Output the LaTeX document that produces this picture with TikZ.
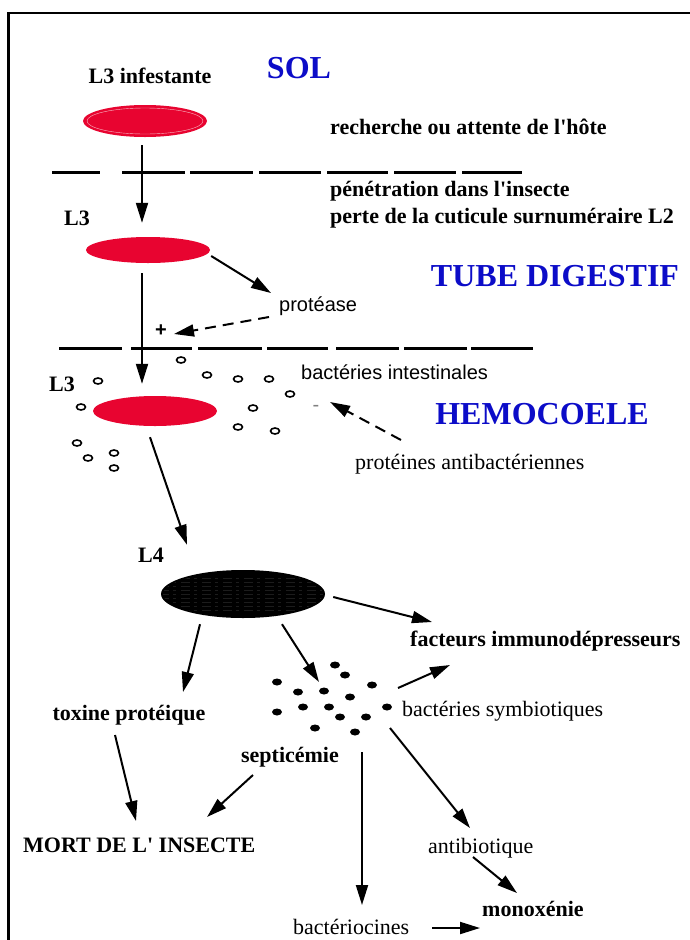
\documentclass[tikz,border=0pt]{standalone}
\usepackage{fontspec}
\setmainfont{Liberation Serif}[Ligatures=TeXOff]
\newfontfamily\sansf{Liberation Sans}[Ligatures=TeXOff]
\usetikzlibrary{arrows.meta,calc,shapes.geometric}
\definecolor{wred}{RGB}{232,4,48}
\definecolor{zblue}{RGB}{12,12,200}
\begin{document}
\begin{tikzpicture}[x=1pt,y=-1pt,
 arr/.style={line width=2pt,-{Triangle[length=20pt,width=12pt]}},
 darr/.style={arr,dash pattern=on 11pt off 7pt},
 lab/.style={font=\fontsize{22}{24}\selectfont\bfseries,inner sep=0pt},
 reg/.style={font=\fontsize{22}{24}\selectfont,inner sep=0pt},
 sanslab/.style={font=\sansf\fontsize{20}{22}\selectfont,inner sep=0pt},
 zone/.style={font=\fontsize{32}{34}\selectfont\bfseries,text=zblue,inner sep=0pt},
 worm/.style={ellipse,fill=wred,draw=none,inner sep=0pt,minimum width=124pt},
 bact/.style={ellipse,draw=black,line width=1.6pt,minimum width=9pt,minimum height=6pt,inner sep=0pt},
 sym/.style={ellipse,fill=black,minimum width=10pt,minimum height=7pt,inner sep=0pt},
 barrier/.style={line width=3pt}]
\useasboundingbox (0,0) rectangle (690,940);
\fill[white] (0,0) rectangle (690,940);
% frame
\draw[line width=2.5pt] (8.5,940) -- (8.5,13) -- (690,13);

% barriers
\foreach \a/\b in {52/100,122/185,190/253,259/321,327/388,394/456,462/522}
  \draw[barrier] (\a,172) -- (\b,172);
\foreach \a/\b in {59/122,131/192,198/262,267/328,336/399,404/467,471/533}
  \draw[barrier] (\a,348) -- (\b,348);

% larvae
\node[worm,minimum height=32pt] (e1) at (145,121) {};
\draw[white,opacity=0.7,line width=0.4pt] (145,121) ellipse [x radius=58, y radius=13];
\node[worm,minimum height=26pt] (e2) at (148,250) {};
\node[worm,minimum height=30pt] (e3) at (155,411) {};
\node[ellipse,fill=black,minimum width=164pt,minimum height=48pt,inner sep=0pt] (e4) at (243,594) {};
\begin{scope}
\clip (243,594) ellipse [x radius=80, y radius=22];
\foreach \yy in {578,582,...,610}
  \draw[gray!22!black,line width=0.3pt,dash pattern=on 9pt off 4pt on 3pt off 5pt] (160,\yy) -- (330,\yy);
\end{scope}

% texts
\node[lab] (l3inf) at (150,76) {L3 infestante};
\node[zone] (sol) at (299,68) {SOL};
\node[lab,anchor=west] (rech) at (330,127) {recherche ou attente de l'hôte};
\node[lab,anchor=west] (pen) at (330,191) {pénétration dans l'insecte};
\node[lab,anchor=west] (perte) at (330,218) {perte de la cuticule surnuméraire L2};
\node[lab] (l3b) at (77,218) {L3};
\node[zone] (tube) at (555,276) {TUBE DIGESTIF};
\node[sanslab,anchor=west] (prot) at (279,306) {protéase};
\node[font=\sansf\bfseries\fontsize{20}{22}\selectfont,inner sep=0pt] (plus) at (161,331) {+};
\node[sanslab,anchor=west] (bint) at (301,372) {bactéries intestinales};
\node[lab] (l3c) at (62,384) {L3};
\node[zone] (hemo) at (542,414) {HEMOCOELE};
\node[sanslab,text=gray] (minus) at (316,408) {-};
\node[reg,anchor=west] (pab) at (355,464) {protéines antibactériennes};
\node[lab] (l4) at (151,555) {L4};
\node[lab,anchor=west] (fact) at (410,641) {facteurs immunodépresseurs};
\node[lab] (tox) at (129,715) {toxine protéique};
\node[reg,anchor=west] (bsym) at (402,711) {bactéries symbiotiques};
\node[lab] (sept) at (290,757) {septicémie};
\node[lab,anchor=west] (mort) at (23,845) {MORT DE L' INSECTE};
\node[reg,anchor=west] (antib) at (428,848) {antibiotique};
\node[lab,anchor=west] (mono) at (482,909) {monoxénie};
\node[reg,anchor=west] (bcin) at (293,927) {bactériocines};

% intestinal bacteria
\foreach \p [count=\i] in {(181,360),(98,381),(207,375),(238,379),(269,379),(290,394),(81,407),(253,408),(238,427),(275,431),(77,443),(114,453),(88,458),(114,468)}
  \node[bact] (b\i) at \p {};
% symbiotic bacteria
\foreach \p [count=\i] in {(335,665),(345,675),(277,682),(298,692),(324,691),(372,685),(350,697),(277,712),(303,707),(329,707),(387,707),(340,717),(366,717),(315,728),(355,732)}
  \node[sym] (d\i) at \p {};

% connectors
\draw[arr] ($(e1.south)+(-3,8)$) -- ($(e2.north)+(-6,-14)$);
\draw[arr] ($(e2.east)+(1,6)$) -- ($(prot.west)+(-8,-13)$);
\draw[arr] ($(e2.south)+(-6,10)$) -- ($(e3.north)+(-13,-12)$);
\draw[darr] ($(prot.west)+(-10,11)$) -- ($(plus)+(13,3)$);
\draw[darr] ($(pab.west)+(46,-24)$) -- ($(minus)+(14,-6)$);
\draw[arr] ($(e3.south)+(-5,11)$) -- ($(e4.north)+(-56,-25)$);
\draw[arr] ($(e4.east)+(8,3)$) -- ($(fact.west)+(22,-19)$);
\draw[arr] ($(e4.south)+(-43,6)$) -- ($(tox)+(54,-23)$);
\draw[arr] ($(e4.south)+(39,6)$) -- ($(d5)+(-5,-9)$);
\draw[arr] ($(d6)+(26,3)$) -- ($(fact.west)+(40,24)$);
\draw[arr] ($(d11)+(3,21)$) -- ($(antib.west)+(42,-20)$);
\draw[arr] ($(d15)+(7,20)$) -- ($(bcin.west)+(69,-22)$);
\draw[arr] ($(sept)+(-37,18)$) -- ($(mort.west)+(184,-28)$);
\draw[arr] ($(tox)+(-14,20)$) -- ($(mort.west)+(113,-24)$);
\draw[arr] ($(antib.west)+(45,9)$) -- ($(mono.west)+(35,-16)$);
\draw[arr] ($(bcin.west)+(139,1)$) -- ($(mono.west)+(-2,19)$);
\end{tikzpicture}
\end{document}
